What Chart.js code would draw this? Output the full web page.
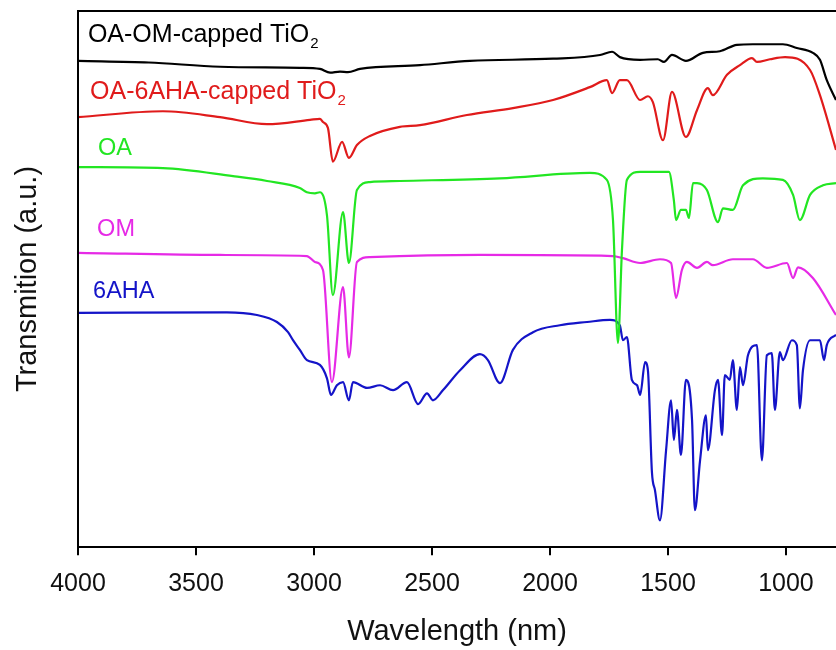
<!DOCTYPE html>
<html>
<head>
<meta charset="utf-8">
<script src="https://cdn.jsdelivr.net/npm/chart.js@4/dist/chart.umd.min.js"></script>
<style>
html, body { margin: 0; padding: 0; background: #fff; overflow: hidden; }
#wrap { width: 836px; height: 650px; position: relative; }
</style>
</head>
<body>
<div id="wrap"><canvas id="ftir"></canvas></div>
<script>
// wavenumber (cm-1) and transmission (a.u., stacked) for each spectrum
var wnOaOm = [4000, 3700, 3398, 3060, 2975, 2932, 2890, 2856, 2805, 2551, 2339, 1987, 1788, 1737, 1704, 1618, 1543, 1517, 1483, 1424, 1352, 1280, 1208, 1140, 1013, 954, 886, 856, 827, 788];
var tOaOm = [90.7, 90.4, 89.6, 89.4, 89.2, 88.5, 88.7, 88.6, 89.2, 89.9, 90.7, 91.1, 91.8, 92.4, 91.4, 90.9, 91.0, 90.5, 91.8, 90.7, 92.2, 92.5, 93.7, 93.8, 93.8, 93.1, 92.2, 90.9, 87.1, 83.4];

var wnOa6aha = [4000, 3640, 3398, 3199, 3017, 2975, 2962, 2941, 2920, 2881, 2852, 2818, 2763, 2636, 2551, 2352, 2157, 1987, 1831, 1759, 1737, 1704, 1674, 1618, 1585, 1564, 1521, 1483, 1424, 1377, 1331, 1310, 1250, 1195, 1144, 1123, 1068, 1004, 898, 856, 788];
var tOa6aha = [80.2, 81.3, 80.2, 78.9, 79.7, 79.9, 79.3, 78.2, 71.9, 75.6, 72.6, 75.0, 76.7, 78.4, 78.7, 80.6, 81.9, 83.4, 85.8, 87.1, 84.7, 87.1, 87.1, 83.4, 84.1, 83.0, 75.9, 84.9, 76.5, 81.5, 85.6, 84.3, 88.1, 89.9, 91.2, 90.5, 91.0, 91.4, 89.0, 84.3, 74.1];

var wnOa = [4000, 3640, 3343, 3199, 3060, 3030, 2996, 2975, 2945, 2920, 2877, 2852, 2818, 2763, 2636, 2212, 1831, 1759, 1733, 1712, 1695, 1674, 1618, 1496, 1475, 1466, 1445, 1424, 1411, 1394, 1377, 1335, 1288, 1267, 1225, 1182, 1098, 1013, 970, 941, 898, 843, 788];
var tOa = [70.9, 70.7, 69.2, 68.3, 67.0, 66.2, 66.0, 66.2, 61.9, 47.0, 62.5, 53.0, 66.6, 68.1, 68.3, 68.8, 69.8, 68.5, 61.0, 38.1, 55.4, 68.5, 70.0, 70.0, 64.7, 61.0, 62.9, 62.9, 61.4, 67.9, 67.9, 66.6, 60.6, 63.2, 62.9, 67.5, 68.8, 68.5, 65.7, 61.0, 65.7, 67.5, 67.9];

var wnOm = [4000, 3398, 3030, 2996, 2962, 2924, 2877, 2852, 2818, 2763, 2297, 1733, 1691, 1618, 1534, 1487, 1466, 1441, 1420, 1377, 1335, 1310, 1225, 1140, 1081, 996, 970, 949, 886, 788];
var tOm = [54.9, 54.5, 54.3, 53.2, 51.7, 30.8, 48.5, 35.4, 53.2, 54.1, 54.5, 54.3, 53.9, 53.0, 53.7, 53.0, 46.5, 51.7, 53.2, 52.1, 53.2, 52.6, 53.7, 53.7, 52.1, 53.0, 50.2, 52.2, 50.2, 43.3];

var wn6aha = [4000, 3369, 3242, 3157, 3110, 3089, 3060, 3030, 2975, 2945, 2928, 2903, 2877, 2852, 2835, 2775, 2720, 2665, 2606, 2559, 2521, 2496, 2453, 2381, 2297, 2263, 2212, 2157, 2072, 1958, 1843, 1746, 1704, 1691, 1674, 1653, 1631, 1618, 1597, 1585, 1568, 1555, 1534, 1508, 1487, 1475, 1462, 1445, 1424, 1398, 1386, 1364, 1339, 1331, 1301, 1288, 1271, 1259, 1238, 1225, 1208, 1195, 1182, 1161, 1123, 1102, 1081, 1060, 1047, 1026, 1013, 975, 954, 941, 928, 898, 856, 839, 827, 788];
var t6aha = [43.7, 43.8, 43.3, 42.0, 40.1, 38.6, 36.8, 34.9, 34.0, 31.5, 28.4, 30.2, 30.8, 27.4, 30.8, 29.7, 30.2, 29.3, 30.8, 26.7, 28.7, 27.4, 29.3, 33.0, 36.0, 34.9, 30.6, 36.8, 40.1, 41.4, 42.0, 42.4, 41.4, 38.6, 39.2, 31.2, 30.2, 28.4, 34.5, 33.0, 14.0, 10.6, 5.0, 18.1, 27.4, 20.0, 25.6, 17.2, 31.2, 23.7, 6.9, 16.2, 24.6, 18.1, 29.3, 31.2, 20.9, 32.1, 31.2, 34.9, 25.6, 33.6, 30.2, 35.8, 37.7, 16.2, 35.8, 36.2, 25.6, 36.4, 34.9, 38.6, 37.7, 25.9, 33.0, 38.6, 38.6, 34.9, 37.7, 39.6];

var xTicks = [4000, 3500, 3000, 2500, 2000, 1500, 1000];

var FONT = "'Liberation Sans', Arial, sans-serif";

function pts(xs, ys) {
    return xs.map(function(x, i) { return { x: x, y: ys[i] }; });
}

function spectrum(label, xs, ys, color) {
    return {
        label: label,
        data: pts(xs, ys),
        borderColor: color,
        borderWidth: 2.2,
        pointRadius: 0,
        cubicInterpolationMode: 'monotone',
        fill: false
    };
}

// curve names written next to each trace
var traceLabels = [
    { text: 'OA-OM-capped TiO', sub: '2', x: 3958, y: 94.2, size: 25, color: '#000000' },
    { text: 'OA-6AHA-capped TiO', sub: '2', x: 3949, y: 83.6, size: 25, color: '#e01b1b' },
    { text: 'OA', sub: '', x: 3915, y: 73.1, size: 23.5, color: '#22e622' },
    { text: 'OM', sub: '', x: 3919, y: 58.0, size: 23.5, color: '#e62ae6' },
    { text: '6AHA', sub: '', x: 3936, y: 46.5, size: 23.5, color: '#1414c8' }
];

var framePlugin = {
    id: 'frame',
    afterDraw: function(chart) {
        var ctx = chart.ctx, a = chart.chartArea;
        ctx.save();
        ctx.strokeStyle = '#000';
        ctx.lineWidth = 2;
        ctx.beginPath();
        ctx.moveTo(a.left, a.bottom);
        ctx.lineTo(a.left, a.top);
        ctx.lineTo(a.right + 2, a.top);
        ctx.stroke();

        // y axis title
        ctx.fillStyle = '#111';
        ctx.font = '29px ' + FONT;
        ctx.textAlign = 'center';
        ctx.textBaseline = 'middle';
        ctx.translate(28, 279);
        ctx.rotate(-Math.PI / 2);
        ctx.fillText('Transmition (a.u.)', 0, 0);
        ctx.restore();

        // trace names
        var xs = chart.scales.x, ys = chart.scales.y;
        ctx.save();
        ctx.textAlign = 'left';
        ctx.textBaseline = 'alphabetic';
        traceLabels.forEach(function(l) {
            var px = xs.getPixelForValue(l.x), py = ys.getPixelForValue(l.y);
            ctx.fillStyle = l.color;
            ctx.font = l.size + 'px ' + FONT;
            ctx.fillText(l.text, px, py);
            if (l.sub) {
                var w = ctx.measureText(l.text).width;
                ctx.font = '15px ' + FONT;
                ctx.fillText(l.sub, px + w + 1, py + 6);
            }
        });
        ctx.restore();
    }
};

new Chart(document.getElementById('ftir'), {
    type: 'line',
    data: {
        datasets: [
            spectrum('OA-OM-capped TiO2', wnOaOm, tOaOm, '#000000'),
            spectrum('OA-6AHA-capped TiO2', wnOa6aha, tOa6aha, '#e01b1b'),
            spectrum('OA', wnOa, tOa, '#22e622'),
            spectrum('OM', wnOm, tOm, '#e62ae6'),
            spectrum('6AHA', wn6aha, t6aha, '#1414c8')
        ]
    },
    options: {
        responsive: true,
        maintainAspectRatio: false,
        animation: false,
        layout: { padding: { left: 78, right: 0, top: 11, bottom: 1 } },
        plugins: {
            legend: { display: false },
            tooltip: { enabled: false }
        },
        scales: {
            x: {
                type: 'linear',
                reverse: true,
                min: 788,
                max: 4000,
                afterBuildTicks: function(scale) {
                    scale.ticks = xTicks.map(function(v) { return { value: v }; });
                },
                grid: {
                    drawOnChartArea: false,
                    drawTicks: true,
                    tickLength: 8,
                    color: '#000',
                    lineWidth: 2
                },
                border: { display: true, color: '#000', width: 2 },
                ticks: {
                    color: '#111',
                    padding: 14,
                    maxRotation: 0,
                    autoSkip: false,
                    font: { family: FONT, size: 25 },
                    callback: function(v) { return String(v); }
                },
                title: {
                    display: true,
                    text: 'Wavelength (nm)',
                    color: '#111',
                    padding: { top: 1, bottom: 0 },
                    font: { family: FONT, size: 29 }
                }
            },
            y: {
                display: false,
                min: 0,
                max: 100
            }
        }
    },
    plugins: [framePlugin]
});
</script>
</body>
</html>
